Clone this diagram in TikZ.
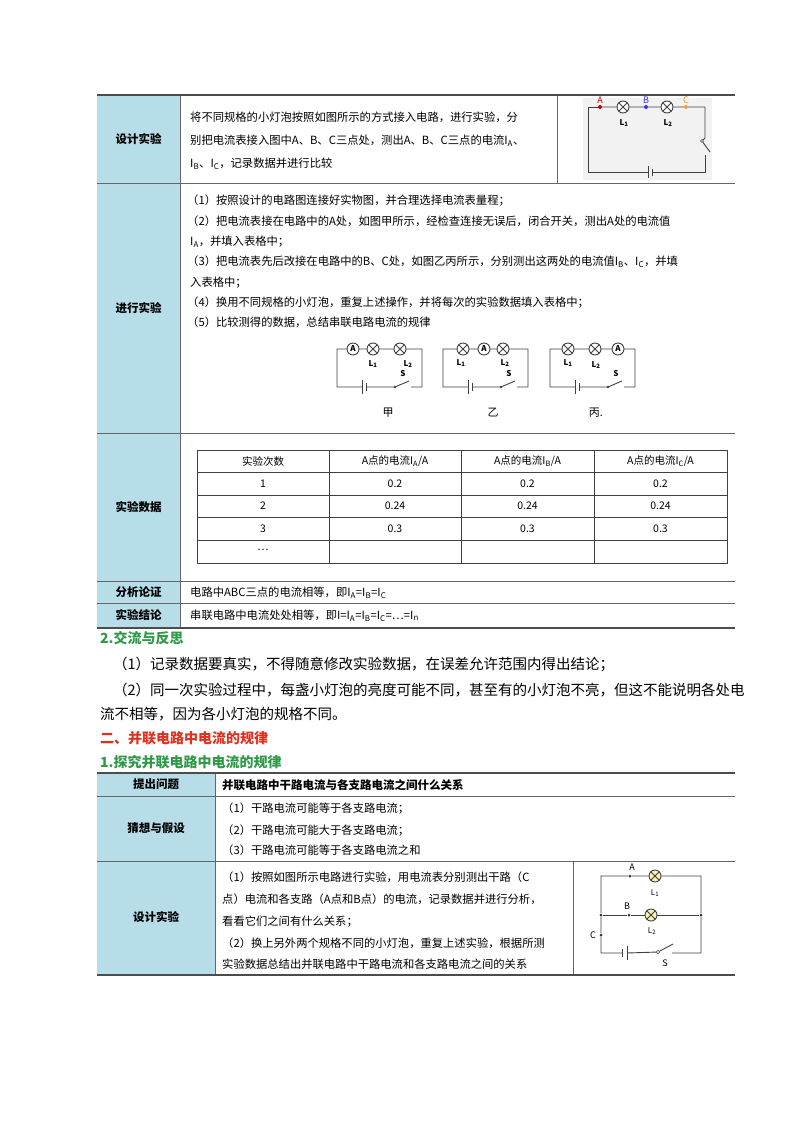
\documentclass[tikz,border=0pt]{standalone}
\usepackage{fontspec}
\setmainfont{Noto Sans CJK SC}
\usetikzlibrary{positioning}
\definecolor{labblue}{HTML}{B7DDE8}
\definecolor{secgreen}{HTML}{2E9A48}
\definecolor{secred}{HTML}{E0301E}
\definecolor{lampyel}{HTML}{F6F0B4}
\tikzset{
  lab/.style={font=\fontsize{11.5}{13}\selectfont\bfseries},
  txt/.style={anchor=base west, inner sep=0, font=\fontsize{11.3}{13}\selectfont},
  cell/.style={inner sep=0, font=\fontsize{10.5}{12}\selectfont},
  para/.style={anchor=base west, inner sep=0, font=\fontsize{14.5}{17}\selectfont},
  sec/.style={anchor=base west, inner sep=0, font=\fontsize{14}{17}\selectfont\bfseries},
  wire/.style={draw=black!75, line width=0.9pt},
  lamp/.style={circle, draw=black!75, line width=0.9pt, fill=white, minimum size=12, inner sep=0,
    path picture={\draw[line width=0.9pt, black!75] (path picture bounding box.south west) -- (path picture bounding box.north east)
      (path picture bounding box.north west) -- (path picture bounding box.south east);}},
  meter/.style={circle, draw=black!75, line width=0.9pt, fill=white, minimum size=12, inner sep=0,
    font=\fontsize{8}{8}\selectfont\bfseries},
  dot/.style={circle, fill=#1, minimum size=4, inner sep=0},
  cname/.style={inner sep=0, font=\fontsize{8}{9}\selectfont\bfseries},
}
\begin{document}
\begin{tikzpicture}[x=1pt, y=-1pt]
\useasboundingbox[fill=white] (0,0) rectangle (800,1132);

% ---- table 1 ----
\fill[labblue] (97,95) rectangle (180,628);
\draw[black!60] (180,95) -- (180,628) (557,95) -- (557,183);
\foreach \y in {183,433,581,603} \draw[black!60] (97,\y) -- (735,\y);
\draw[black!70, line width=1.3pt] (97,95) -- (735,95) (97,628) -- (735,628);
\node[lab] (t1a) at (138.5,139) {设计实验};
\node[lab] (t1b) at (138.5,308) {进行实验};
\node[lab] (t1c) at (138.5,507) {实验数据};
\node[lab] (t1d) at (138.5,592) {分析论证};
\node[lab] (t1e) at (138.5,615) {实验结论};

\node[txt] (r1a) at (190,121) {将不同规格的小灯泡按照如图所示的方式接入电路，进行实验，分};
\node[txt] (r1b) at (190,144) {别把电流表接入图中A、B、C三点处，测出A、B、C三点的电流I\textsubscript{A}、};
\node[txt] (r1c) at (190,167) {I\textsubscript{B}、I\textsubscript{C}，记录数据并进行比较};

\node[txt] (r2a) at (187,204) {（1）按照设计的电路图连接好实物图，并合理选择电流表量程；};
\node[txt] (r2b) at (187,225) {（2）把电流表接在电路中的A处，如图甲所示，经检查连接无误后，闭合开关，测出A处的电流值};
\node[txt] (r2c) at (190,245) {I\textsubscript{A}，并填入表格中；};
\node[txt] (r2d) at (187,265) {（3）把电流表先后改接在电路中的B、C处，如图乙丙所示，分别测出这两处的电流值I\textsubscript{B}、I\textsubscript{C}，并填};
\node[txt] (r2e) at (190,286) {入表格中；};
\node[txt] (r2f) at (187,306) {（4）换用不同规格的小灯泡，重复上述操作，并将每次的实验数据填入表格中；};
\node[txt] (r2g) at (187,326) {（5）比较测得的数据，总结串联电路电流的规律};

% top circuit
\fill[black!5] (583,98) rectangle (712,180);
\coordinate (k1) at (588,107); \coordinate (k2) at (705,107);
\coordinate (k3) at (705,172); \coordinate (k4) at (588,172);
\node[dot=red!80!black] (pA) at (600,107) {};
\node[lamp] (kL1) at (623,107) {};
\node[dot=blue!80] (pB) at (646,107) {};
\node[lamp] (kL2) at (667,107) {};
\node[dot=orange!80] (pC) at (686,107) {};
\node[circle, draw=black!75, minimum size=3, inner sep=0] (ks) at (702,141) {};
\coordinate (kse) at (710,152); \coordinate (ksb) at (705,155);
\coordinate (kb1) at (648,172); \coordinate (kb2) at (652,172);
\draw[wire] (pA) -- (k1) -- (k4) -- (kb1) (kb2) -- (k3) -- (ksb);
\draw[wire] (pA) -- (kL1) -- (pB) -- (kL2) -- (pC) -- (k2) -- (705,138) -- (ks) -- (kse);
\draw[wire] (kb1) ++(0,-6) -- ++(0,12) (kb2) ++(0,-3.5) -- ++(0,7);
\node[inner sep=0, red!80!black, font=\fontsize{9}{9}\selectfont] (lA) at (600,100) {A};
\node[inner sep=0, blue!80, font=\fontsize{9}{9}\selectfont] (lB) at (646,100) {B};
\node[inner sep=0, orange!90, font=\fontsize{9}{9}\selectfont] (lC) at (686,100) {C};
\node[cname] (kn1) at (624,123) {L\textsubscript{1}};
\node[cname] (kn2) at (668,123) {L\textsubscript{2}};

% three series circuits
\foreach \n/\x in {jia/337, yi/443, bing/550}{
  \coordinate (\n tl) at (\x,349); \coordinate (\n tr) at (\x+85,349);
  \coordinate (\n br) at (\x+85,387); \coordinate (\n bl) at (\x,387);
  \coordinate (\n b1) at (\x+25,387); \coordinate (\n b2) at (\x+29,387);
  \coordinate (\n s1) at (\x+58,387); \coordinate (\n s2) at (\x+72,381); \coordinate (\n s3) at (\x+74,387);
  \draw[wire] (\n b1) -- (\n bl) -- (\n tl) -- (\n tr) -- (\n br) -- (\n s3)
    (\n s1) -- (\n s2) (\n s1) -- (\n b2);
  \fill[black!75] (\n s1) circle (1.4);
  \draw[wire] (\n b1) ++(0,-7) -- ++(0,14) (\n b2) ++(0,-4) -- ++(0,8);
  \node[cname] (\n S) at (\x+66,374) {S};
}
\node[meter] (jiaE1) at (353,349) {A}; \node[lamp] (jiaE2) at (373,349) {}; \node[lamp] (jiaE3) at (400,349) {};
\node[lamp] (yiE1) at (463,349) {}; \node[meter] (yiE2) at (484,349) {A}; \node[lamp] (yiE3) at (503,349) {};
\node[lamp] (bingE1) at (568,349) {}; \node[lamp] (bingE2) at (595,349) {}; \node[meter] (bingE3) at (618,349) {A};
\node[cname] (jiaL1) at (373,364) {L\textsubscript{1}}; \node[cname] (jiaL2) at (408,364) {L\textsubscript{2}};
\node[cname] (yiL1) at (461,363) {L\textsubscript{1}}; \node[cname] (yiL2) at (505,363) {L\textsubscript{2}};
\node[cname] (bingL1) at (568,363) {L\textsubscript{1}}; \node[cname] (bingL2) at (596,365) {L\textsubscript{2}};
\node[cell, font=\fontsize{11}{12}\selectfont] (jiaT) at (388,413) {甲};
\node[cell, font=\fontsize{11}{12}\selectfont] (yiT) at (493,413) {乙};
\node[cell, font=\fontsize{11}{12}\selectfont] (bingT) at (596,413) {丙.};

% data table
\draw[black!75] (197,450) rectangle (727,563);
\foreach \y in {472,495,517,540} \draw[black!75] (197,\y) -- (727,\y);
\foreach \x in {329,461,594} \draw[black!75] (\x,450) -- (\x,563);
\node[cell] (h1) at (263,461) {实验次数};
\node[cell] (h2) at (395,461) {A点的电流I\textsubscript{A}/A};
\node[cell] (h3) at (527.5,461) {A点的电流I\textsubscript{B}/A};
\node[cell] (h4) at (660.5,461) {A点的电流I\textsubscript{C}/A};
\foreach \r/\y/\n/\v in {1/483.5/1/0.2, 2/506/2/0.24, 3/528.5/3/0.3}{
  \node[cell] (d\r a) at (263,\y) {\n};
  \node[cell] (d\r b) at (395,\y) {\v};
  \node[cell] (d\r c) at (527.5,\y) {\v};
  \node[cell] (d\r d) at (660.5,\y) {\v};
}
\node[cell] (d4a) at (263,550) {…};
\node[txt] (r4) at (190,596) {电路中ABC三点的电流相等，即I\textsubscript{A}=I\textsubscript{B}=I\textsubscript{C}};
\node[txt] (r5) at (190,619) {串联电路中电流处处相等，即I=I\textsubscript{A}=I\textsubscript{B}=I\textsubscript{C}=…=I\textsubscript{n}};

% ---- body text ----
\node[sec, secgreen] (s1) at (100,643) {2.交流与反思};
\node[para] (p1) at (113,669) {（1）记录数据要真实，不得随意修改实验数据，在误差允许范围内得出结论；};
\node[para] (p2) at (113,695) {（2）同一次实验过程中，每盏小灯泡的亮度可能不同，甚至有的小灯泡不亮，但这不能说明各处电};
\node[para] (p3) at (100,719) {流不相等，因为各小灯泡的规格不同。};
\node[sec, secred] (s2) at (100,743) {二、并联电路中电流的规律};
\node[sec, secgreen] (s3) at (100,767) {1.探究并联电路中电流的规律};

% ---- table 2 ----
\fill[labblue] (97,773) rectangle (215,975);
\draw[black!60] (215,773) -- (215,975) (573,861) -- (573,975);
\foreach \y in {796,861} \draw[black!60] (97,\y) -- (735,\y);
\draw[black!70, line width=1.3pt] (97,773) -- (735,773) (97,975) -- (735,975);
\node[lab] (u1) at (156,784.5) {提出问题};
\node[lab] (u2) at (156,828) {猜想与假设};
\node[lab] (u3) at (156,917) {设计实验};
\node[txt, font=\fontsize{11.5}{13}\selectfont\bfseries] (q1) at (222,789) {并联电路中干路电流与各支路电流之间什么关系};
\node[txt] (q2) at (222,812) {（1）干路电流可能等于各支路电流；};
\node[txt] (q3) at (222,834) {（2）干路电流可能大于各支路电流；};
\node[txt] (q4) at (222,854) {（3）干路电流可能等于各支路电流之和};
\node[txt] (q5) at (222,881) {（1）按照如图所示电路进行实验，用电流表分别测出干路（C};
\node[txt] (q6) at (222,903) {点）电流和各支路（A点和B点）的电流，记录数据并进行分析，};
\node[txt] (q7) at (222,925) {看看它们之间有什么关系；};
\node[txt] (q8) at (222,947) {（2）换上另外两个规格不同的小灯泡，重复上述实验，根据所测};
\node[txt] (q9) at (222,968) {实验数据总结出并联电路中干路电流和各支路电流之间的关系};

% parallel circuit
\coordinate (m1) at (601,876); \coordinate (m2) at (701,876);
\coordinate (m3) at (701,953); \coordinate (m4) at (601,953);
\node[dot=black!80, minimum size=3] (mA) at (630,876) {};
\node[lamp, fill=lampyel] (mL1) at (655,876) {};
\node[dot=black!80, minimum size=3] (mJ1) at (601,915) {};
\node[dot=black!80, minimum size=3] (mB) at (629,915) {};
\node[lamp, fill=lampyel] (mL2) at (651,915) {};
\node[dot=black!80, minimum size=3] (mJ2) at (701,915) {};
\node[dot=black!80, minimum size=3] (mC) at (601,935) {};
\node[circle, draw=black!75, minimum size=3.5, inner sep=0] (ms) at (658,952) {};
\coordinate (mse) at (673,944); \coordinate (msb) at (672,953);
\coordinate (mb1) at (622,953); \coordinate (mb2) at (627,953);
\draw[wire] (mA) -- (m1) -- (mJ1) -- (mC) -- (m4) -- (mb1) (mb2) -- (ms) -- (mse) (msb) -- (m3) -- (mJ2) -- (m2) -- (mL1) -- (mA);
\draw[wire] (mJ1) -- (mB) -- (mL2) -- (mJ2);
\draw[wire] (mb1) ++(0,-4) -- ++(0,8) (mb2) ++(0,-7) -- ++(0,14);
\node[inner sep=0, font=\fontsize{9}{9}\selectfont\itshape] (mlA) at (632,867) {A};
\node[inner sep=0, font=\fontsize{9}{9}\selectfont\itshape] (mlB) at (627,906) {B};
\node[inner sep=0, font=\fontsize{9}{9}\selectfont\itshape] (mlC) at (593,935) {C};
\node[inner sep=0, font=\fontsize{9}{9}\selectfont] (mlS) at (665,963) {S};
\node[cname, font=\fontsize{8}{9}\selectfont] (mn1) at (655,893) {L\textsubscript{1}};
\node[cname, font=\fontsize{8}{9}\selectfont] (mn2) at (652,931) {L\textsubscript{2}};
\end{tikzpicture}
\end{document}
